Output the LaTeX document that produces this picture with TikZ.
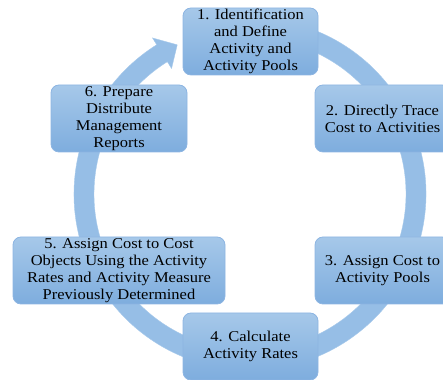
\documentclass[tikz,border=0pt]{standalone}
\usepackage{fontspec}
\setmainfont[FakeStretch=1.1]{Liberation Serif}
\begin{document}
\begin{tikzpicture}[x=1pt,y=1pt,
  stepbox/.style={draw=boxline, line width=0.8pt, rounded corners=8pt,
    top color=boxtop, bottom color=boxbot, minimum height=67pt,
    align=center, font=\fontsize{15}{17}\selectfont, text=black, inner sep=1pt},
  ring/.style={fill=ringcol, draw=ringedge, line width=0.4pt}]
\definecolor{boxtop}{HTML}{A6C8E9}
\definecolor{boxbot}{HTML}{7EADDE}
\definecolor{boxline}{HTML}{8DB5E2}
\definecolor{ringcol}{HTML}{96BEE6}
\definecolor{ringedge}{HTML}{A8CAEB}
\useasboundingbox (0,0) rectangle (443,379);
\clip (0,0) rectangle (443,379);
\begin{scope}[shift={(250,185)}]
\filldraw[ring] (80:176) arc[start angle=80, end angle=-238, radius=176]
  -- (122:184) -- (116:166) -- (122:148) -- (122:156)
  arc[start angle=-238, end angle=80, radius=156] -- cycle;
\end{scope}
\node[stepbox, minimum width=135pt] (s1) at (250.5,337.5) {1. Identification\\and Define\\Activity and\\Activity Pools};
\node[stepbox, minimum width=135pt] (s2) at (382.5,260.5) {2. Directly Trace\\Cost to Activities};
\node[stepbox, minimum width=135pt] (s3) at (382.5,108.5) {3. Assign Cost to\\Activity Pools};
\node[stepbox, minimum width=135pt] (s4) at (250.5,32.5) {4. Calculate\\Activity Rates};
\node[stepbox, minimum width=212pt] (s5) at (119,108.5) {5. Assign Cost to Cost\\Objects Using the Activity\\Rates and Activity Measure\\Previously Determined};
\node[stepbox, minimum width=136pt] (s6) at (119,260.5) {6. Prepare\\Distribute\\Management\\Reports};
\end{tikzpicture}
\end{document}
